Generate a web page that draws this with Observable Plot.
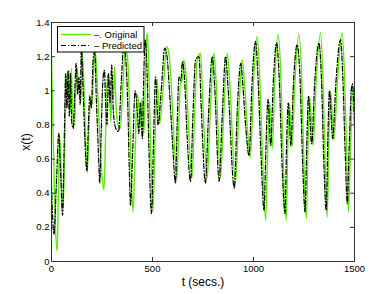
<!DOCTYPE html>
<html><head><meta charset="utf-8">
<script src="https://cdn.jsdelivr.net/npm/d3@7"></script>
<script src="https://cdn.jsdelivr.net/npm/@observablehq/plot@0.6"></script>
<style>body{margin:0;background:#fff}#chart{width:390px;height:294px}</style>
</head><body><div id="chart"></div>
<script>
const origT = [0,8,18,28,34,40,46,52,58,66,74,80,86,92,98,106,114,120,127,134,140,146,152,160,168,177,186,193,200,210,218,228,240,250,260,268,275,282,288,294,300,306,312,320,330,341,352,366,376,385,395,404,414,424,432,440,448,458,465,472,480,490,503,512,523,536,548,556,569,581,592,605,622,630,639,646,655,665,680,696,708,721,738,750,771,785,804,815,837,852,870,882,911,928,944,955,969,985,1000,1018,1030,1045,1060,1070,1080,1093,1105,1122,1135,1148,1162,1170,1178,1191,1205,1224,1238,1250,1262,1270,1278,1295,1310,1332,1343,1355,1365,1373,1381,1398,1415,1439,1450,1462,1470,1480,1490,1500];
const origV = [1.20,0.75,0.25,0.06,0.40,0.74,0.60,0.40,0.32,0.70,1.09,0.92,1.12,0.88,1.13,0.85,0.80,1.00,1.14,1.00,1.05,0.95,1.22,1.05,0.75,0.52,0.80,0.95,0.92,1.15,1.22,1.00,0.70,0.50,0.42,0.75,1.04,1.10,0.95,0.82,1.08,0.95,1.14,0.90,0.80,0.78,1.00,1.25,1.20,0.95,0.50,0.29,0.65,0.98,0.92,0.78,0.95,0.75,1.10,1.34,1.20,0.70,0.30,0.70,1.07,0.81,0.95,1.06,1.26,1.22,1.05,0.75,0.49,0.80,1.06,1.05,1.18,1.10,0.75,0.49,0.85,1.18,1.22,0.90,0.49,0.85,1.22,1.05,0.49,0.85,1.22,1.05,0.46,0.90,1.18,1.05,0.79,0.61,1.05,1.32,1.10,0.60,0.24,0.65,0.93,0.66,1.05,1.33,1.10,0.55,0.24,0.70,0.92,0.67,1.05,1.33,1.10,0.55,0.25,0.70,0.96,0.68,1.05,1.34,1.10,0.55,0.26,0.70,1.00,0.71,1.05,1.34,1.10,0.60,0.29,0.65,0.98,1.02];
const predT = [0,6,12,24,36,44,55,63,70,76,82,88,94,100,108,116,122,130,136,142,148,156,165,175,183,190,197,206,214,222,232,239,246,254,262,268,275,282,290,298,306,318,332,344,358,368,378,385,391,402,414,424,432,440,450,457,464,472,482,495,505,515,528,540,548,560,572,584,598,614,622,631,640,648,658,672,688,700,713,730,742,762,777,796,808,830,845,862,874,905,920,937,948,962,978,993,1010,1022,1038,1052,1062,1072,1085,1098,1114,1127,1142,1156,1164,1172,1185,1198,1216,1230,1244,1255,1264,1272,1288,1303,1324,1336,1349,1360,1368,1376,1392,1408,1431,1442,1455,1464,1474,1484,1490,1500];
const predV = [0.45,0.25,0.16,0.45,0.75,0.55,0.27,0.70,1.10,0.90,1.12,0.85,1.10,0.82,0.78,1.02,1.16,0.98,1.08,0.92,1.25,1.02,0.72,0.53,0.82,0.97,0.90,1.18,1.23,0.95,0.65,0.46,0.75,1.05,1.12,0.92,0.80,1.10,0.93,1.15,0.88,0.78,0.76,1.02,1.26,1.18,0.90,0.55,0.33,0.65,1.00,0.90,0.75,0.93,0.72,1.10,1.30,1.15,0.68,0.28,0.70,1.08,0.80,0.95,1.08,1.25,1.20,1.00,0.72,0.46,0.80,1.08,1.06,1.17,1.08,0.72,0.47,0.85,1.18,1.20,0.88,0.46,0.85,1.20,1.02,0.47,0.85,1.20,1.02,0.43,0.90,1.16,1.02,0.78,0.62,1.05,1.29,1.08,0.60,0.30,0.68,0.95,0.68,1.05,1.28,1.08,0.55,0.28,0.70,0.93,0.68,1.05,1.27,1.08,0.55,0.29,0.70,0.97,0.69,1.05,1.28,1.08,0.55,0.30,0.72,1.00,0.72,1.05,1.30,1.08,0.60,0.34,0.68,1.00,1.04,0.78];
const xTicks = [0, 500, 1000, 1500];
const yTicks = [0, 0.2, 0.4, 0.6, 0.8, 1, 1.2, 1.4];
const seriesNames = ["\u2013. Original", "\u2013 Predicted"];
const seriesColors = ["#55ee00", "#000000"];

const orig = origT.map((t, i) => ({t, v: origV[i]}));
const pred = predT.map((t, i) => ({t, v: predV[i]}));

const W = 390, H = 294, mL = 51, mR = 36, mT = 22, mB = 33;
const fw = W - mL - mR, fh = H - mT - mB, tl = 4;
const font = "'Liberation Sans', Arial, Helvetica, sans-serif";

const plot = Plot.plot({
  width: W, height: H, marginLeft: mL, marginRight: mR, marginTop: mT, marginBottom: mB,
  x: {domain: [0, 1500]},
  y: {domain: [0, 1.4]},
  style: {fontFamily: font, background: "#fff", color: "#000", overflow: "visible"},
  marks: [
    Plot.line(orig, {x: "t", y: "v", stroke: seriesColors[0], strokeWidth: 1.4, curve: "monotone-x"}),
    Plot.line(pred, {x: "t", y: "v", stroke: seriesColors[1], strokeWidth: 1.2, strokeDasharray: "5,2,1,2", curve: "monotone-x"}),
    Plot.frame({stroke: "#333", strokeWidth: 1}),
    Plot.ruleX(xTicks, {x: d => d, insetTop: fh - tl, stroke: "#333"}),
    Plot.ruleX(xTicks, {x: d => d, insetBottom: fh - tl, stroke: "#333"}),
    Plot.ruleY(yTicks, {y: d => d, insetRight: fw - tl, stroke: "#333"}),
    Plot.ruleY(yTicks, {y: d => d, insetLeft: fw - tl, stroke: "#333"}),
    Plot.axisX({ticks: xTicks, tickSize: 0, tickPadding: 4, fontSize: 9.5, label: null, tickFormat: d => String(d)}),
    Plot.axisY({ticks: yTicks, tickSize: 0, tickPadding: 2, fontSize: 9.5, label: null, tickFormat: d => String(d)}),
    Plot.text(["x(t)"], {text: d => d, frameAnchor: "left", dx: -25, rotate: -90, fontSize: 12, textAnchor: "middle", lineAnchor: "middle"}),
    Plot.text(["t (secs.)"], {text: d => d, frameAnchor: "bottom", dy: 21, fontSize: 12, textAnchor: "middle", lineAnchor: "middle"})
  ]
});
document.getElementById("chart").appendChild(plot);

// legend box (MATLAB style)
const svg = d3.select(plot);
const lg = svg.append("g").attr("font-family", font).attr("font-size", 9.5).attr("text-anchor", "start");
lg.append("rect").attr("x", 57.5).attr("y", 26.5).attr("width", 86.5).attr("height", 25.5)
  .attr("fill", "#fff").attr("stroke", "#000").attr("stroke-width", 1);
seriesNames.forEach((name, i) => {
  const y = 34.5 + i * 11;
  lg.append("line").attr("x1", 61).attr("x2", 91).attr("y1", y).attr("y2", y)
    .attr("stroke", seriesColors[i]).attr("stroke-width", i === 0 ? 1.4 : 1.2)
    .attr("stroke-dasharray", i === 0 ? null : "5,2,1,2");
  lg.append("text").attr("x", 94).attr("y", y).attr("dy", "0.35em")
    .attr("text-anchor", "start").attr("fill", "#000").text(name);
});
</script>
</body></html>
